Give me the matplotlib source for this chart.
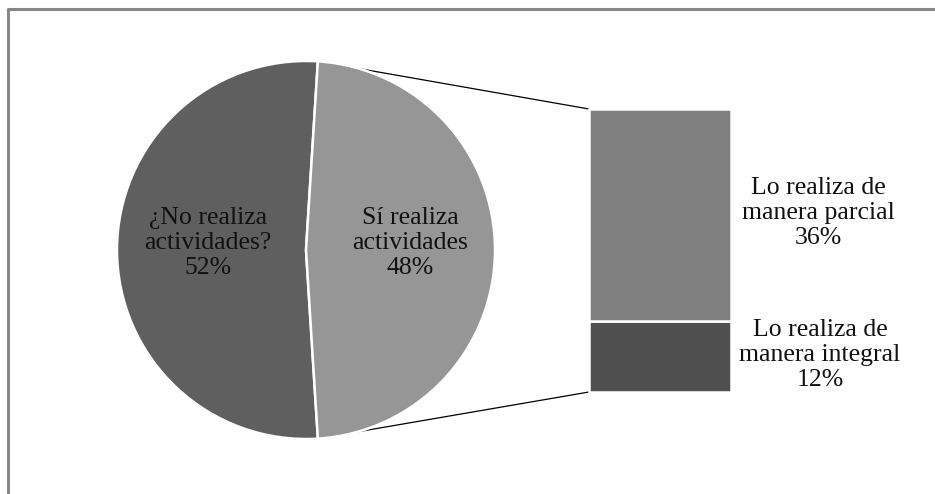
import numpy as np
import matplotlib.pyplot as plt

# data
pie_labels = ["¿No realiza\nactividades?", "Sí realiza\nactividades"]
pie_values = [52, 48]
pie_colors = ["#5f5f5f", "#969696"]

bar_labels = ["Lo realiza de\nmanera integral", "Lo realiza de\nmanera parcial"]
bar_values = [12, 36]
bar_colors = ["#4f4f4f", "#808080"]

W, H = 935, 494
fig = plt.figure(figsize=(W / 100, H / 100), dpi=100)
ax = fig.add_axes([0, 0, 1, 1])

plt.rcParams["font.family"] = ["Liberation Serif", "DejaVu Serif"]
fs = 18.5
ls = 1.17

# pie (positions in pixel-like coords, y up)
cx, cy, r = 306, H - 250, 189
other = pie_values[1]
start = other / sum(pie_values) * 360 / 2
wedges, _ = ax.pie(pie_values, colors=pie_colors, startangle=start,
                   center=(cx, cy), radius=r, frame=True,
                   wedgeprops=dict(edgecolor="white", linewidth=1.8))
for w in wedges:
    w.set_zorder(3)
ax.set_xlim(0, W)
ax.set_ylim(0, H)
ax.set_aspect("equal")
ax.axis("off")

# bar of the second slice
bx0, bx1 = 589, 731
btop, bbot = H - 109, H - 392
scale = (btop - bbot) / sum(bar_values)
bottom = bbot
for v, c in zip(bar_values, bar_colors):
    ax.bar((bx0 + bx1) / 2, v * scale, width=bx1 - bx0, bottom=bottom,
           color=c, edgecolor="white", linewidth=1.8, zorder=3)
    bottom += v * scale

# connector lines
a = np.deg2rad(start)
ax.plot([cx + r * np.cos(a), bx0], [cy + r * np.sin(a), btop], color="black", lw=0.9, zorder=2)
ax.plot([cx + r * np.cos(a), bx0], [cy - r * np.sin(a), bbot], color="black", lw=0.9, zorder=2)

# labels
ax.text(208, H - 243, f"{pie_labels[0]}\n{pie_values[0]}%", ha="center", va="center",
        fontsize=fs, color="#111111", zorder=5, linespacing=ls)
ax.text(410, H - 243, f"{pie_labels[1]}\n{pie_values[1]}%", ha="center", va="center",
        fontsize=fs, color="#111111", zorder=5, linespacing=ls)
ax.text(818, H - 213, f"{bar_labels[1]}\n{bar_values[1]}%", ha="center", va="center",
        fontsize=fs, color="#111111", zorder=5, linespacing=ls)
ax.text(820, H - 355, f"{bar_labels[0]}\n{bar_values[0]}%", ha="center", va="center",
        fontsize=fs, color="#111111", zorder=5, linespacing=ls)

# chart border (top and left visible)
ax.plot([8, 8, W], [0, H - 9, H - 9], color="#888888", lw=2.2, zorder=6)

fig.savefig("out.png", dpi=100)
